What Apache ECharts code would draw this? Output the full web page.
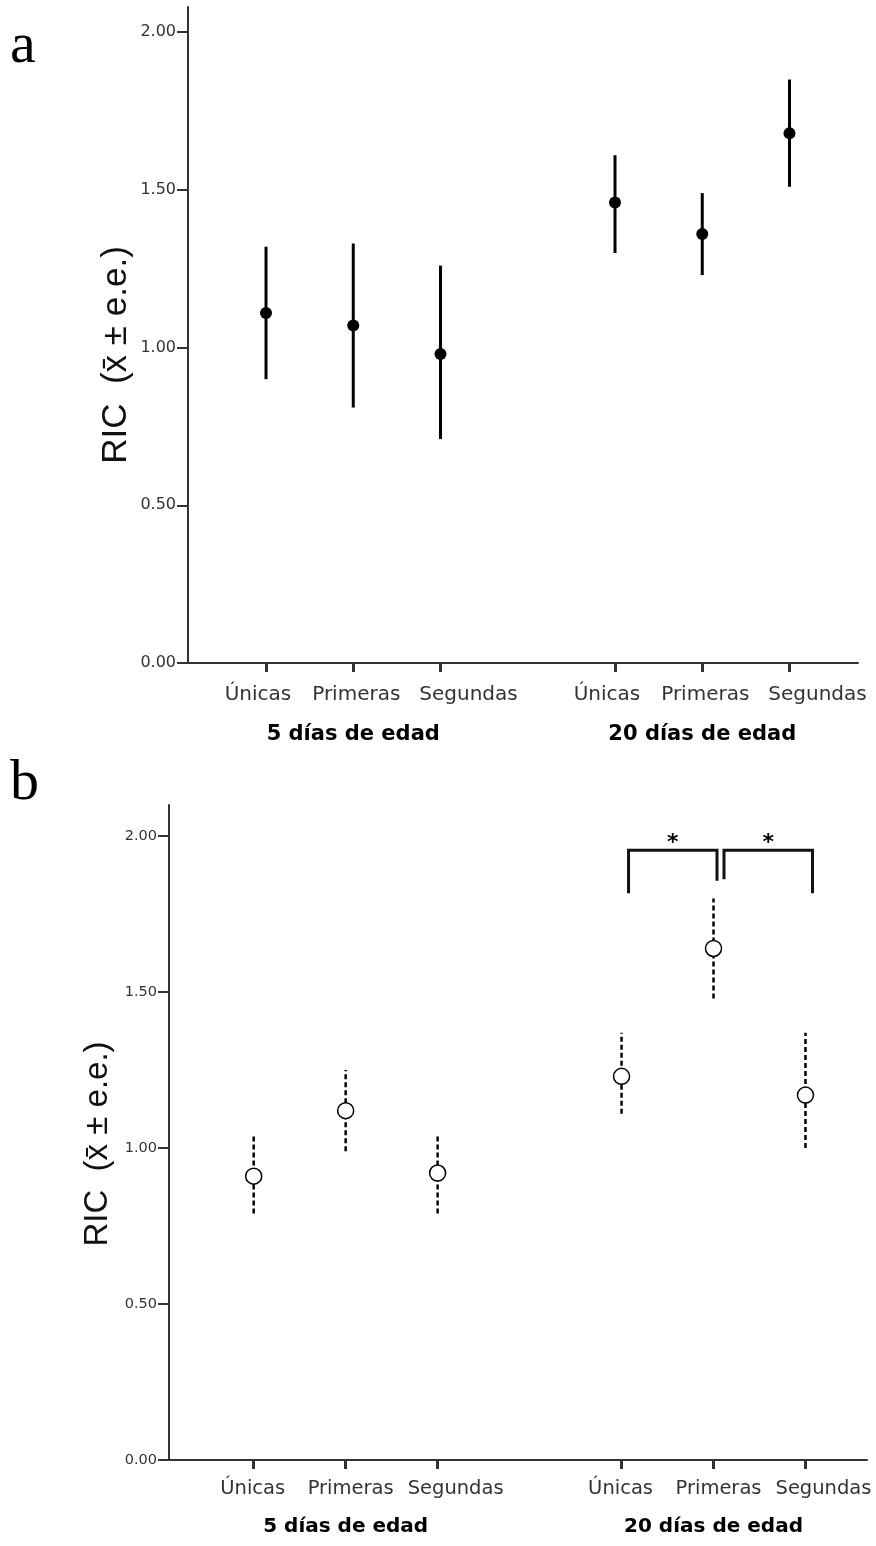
<!DOCTYPE html>
<html>
<head>
<meta charset="utf-8">
<script src="https://cdn.jsdelivr.net/npm/echarts@6/dist/echarts.min.js"></script>
<style>
html, body { margin: 0; padding: 0; background: #fff; }
#chart { width: 876px; height: 1546px; }
</style>
</head>
<body>
<div id="chart"></div>
<script>
const categories = ['Únicas', 'Primeras', 'Segundas']
const ageGroups = ['5 días de edad', '20 días de edad']
const yTicks = [0, 0.5, 1, 1.5, 2]

// panel a: mean, mean - e.e., mean + e.e.
const meanA = [1.11, 1.07, 0.98, 1.46, 1.36, 1.68]
const lowA = [0.90, 0.81, 0.71, 1.30, 1.23, 1.51]
const highA = [1.32, 1.33, 1.26, 1.61, 1.49, 1.85]

// panel b
const meanB = [0.91, 1.12, 0.92, 1.23, 1.64, 1.17]
const lowB = [0.79, 0.99, 0.79, 1.11, 1.48, 1.00]
const highB = [1.04, 1.25, 1.04, 1.37, 1.80, 1.37]

// significance brackets (panel b): pair of items, top, left leg end, right leg end
const bracketPairs = [[3, 4], [4, 5]]
const bracketTop = [1.955, 1.955]
const bracketLegs = [[1.817, 1.857], [1.862, 1.817]]
const bracketMarks = ['*', '*']

// one empty slot between the two age groups
const slot = i => Math.floor(i / 3) * 4 + (i % 3)
const slots = meanA.map((v, i) => slot(i))
const groupSlots = [1, 5]
const richKeys = ['u', 'p', 's']

const chart = echarts.init(document.getElementById('chart'))

// SPSS spreads the labels a bit; pad = [left shift, right shift] per category
function catAxis(gridIndex, min, max, size, margin, pad) {
  const text = { fontFamily: 'DejaVu Sans', fontSize: size, color: '#333' }
  const rich = {}
  richKeys.forEach((k, j) => {
    const d = pad[j]
    rich[k] = Object.assign({}, text, { padding: d < 0 ? [0, -2 * d, 0, 0] : [0, 0, 0, 2 * d] })
  })
  return {
    type: 'value', gridIndex, min, max, position: 'bottom',
    splitLine: { show: false },
    axisLine: { show: true, onZero: false, lineStyle: { color: '#333', width: 2 } },
    axisTick: { show: true, customValues: slots, length: 9, lineStyle: { color: '#333', width: 3 } },
    axisLabel: Object.assign({
      customValues: slots, margin, rich,
      formatter: v => {
        const c = Math.round(v) % 4
        return '{' + richKeys[c] + '|' + categories[c] + '}'
      }
    }, text)
  }
}

function groupAxis(gridIndex, min, max, size, margin) {
  return {
    type: 'value', gridIndex, min, max, position: 'bottom', offset: 0,
    splitLine: { show: false },
    axisLine: { show: false, onZero: false },
    axisTick: { show: false },
    axisLabel: {
      customValues: groupSlots, margin,
      formatter: v => ageGroups[v > 3 ? 1 : 0],
      fontFamily: 'DejaVu Sans', fontWeight: 'bold', fontSize: size, color: '#000'
    }
  }
}

function valAxis(gridIndex, max, size) {
  return {
    type: 'value', gridIndex, min: 0, max,
    splitLine: { show: false },
    axisLine: { show: true, onZero: false, lineStyle: { color: '#333', width: 2 } },
    axisTick: { show: true, customValues: yTicks, length: 11, lineStyle: { color: '#333', width: 2 } },
    axisLabel: {
      customValues: yTicks, margin: 12,
      formatter: v => v.toFixed(2),
      fontFamily: 'DejaVu Sans', fontSize: size, color: '#333'
    }
  }
}

function errorBars(idx, lows, highs, dashed) {
  return {
    type: 'custom', xAxisIndex: idx, yAxisIndex: idx, z: 2,
    data: slots.map((s, i) => [s, lows[i], highs[i]]),
    renderItem(params, api) {
      const lo = api.coord([api.value(0), api.value(1)])
      const hi = api.coord([api.value(0), api.value(2)])
      return {
        type: 'line',
        shape: { x1: lo[0], y1: lo[1], x2: hi[0], y2: hi[1] },
        style: { stroke: '#000', lineWidth: dashed ? 2.5 : 3, lineDash: dashed ? [5, 3] : null }
      }
    }
  }
}

chart.setOption({
  animation: false,
  grid: [
    { left: 188, right: 18, top: 7, bottom: 883 },
    { left: 169, right: 9, top: 805, bottom: 86 }
  ],
  xAxis: [
    catAxis(0, -0.894, 6.785, 20, 22, [-8, 3, 28]),
    catAxis(1, -0.921, 6.669, 19.5, 19, [-1, 5, 18]),
    groupAxis(0, -0.894, 6.785, 21, 61),
    groupAxis(1, -0.921, 6.669, 20, 57)
  ],
  yAxis: [valAxis(0, 2.08, 16), valAxis(1, 2.1, 14.5)],
  graphic: [
    { type: 'text', x: 10, y: 47, style: { text: 'a', fontFamily: 'Liberation Serif', fontSize: 58, fill: '#000', verticalAlign: 'middle' } },
    { type: 'text', x: 10, y: 784, style: { text: 'b', fontFamily: 'Liberation Serif', fontSize: 58, fill: '#000', verticalAlign: 'middle' } },
    { type: 'text', x: 116, y: 355, rotation: Math.PI / 2, style: { text: 'RIC  (x̄ ± e.e.)', fontFamily: 'Liberation Sans', fontSize: 35, fill: '#111', align: 'center', verticalAlign: 'middle' } },
    { type: 'text', x: 98, y: 1144, rotation: Math.PI / 2, style: { text: 'RIC  (x̄ ± e.e.)', fontFamily: 'Liberation Sans', fontSize: 33, fill: '#111', align: 'center', verticalAlign: 'middle' } }
  ],
  series: [
    errorBars(0, lowA, highA, false),
    {
      type: 'scatter', xAxisIndex: 0, yAxisIndex: 0, z: 3,
      symbol: 'circle', symbolSize: 12,
      itemStyle: { color: '#000', opacity: 1 },
      data: slots.map((s, i) => [s, meanA[i]])
    },
    errorBars(1, lowB, highB, true),
    {
      type: 'scatter', xAxisIndex: 1, yAxisIndex: 1, z: 3,
      symbol: 'circle', symbolSize: 16,
      itemStyle: { color: '#fff', borderColor: '#000', borderWidth: 1.5, opacity: 1 },
      data: slots.map((s, i) => [s, meanB[i]])
    },
    {
      type: 'custom', xAxisIndex: 1, yAxisIndex: 1, z: 4,
      data: bracketPairs.map((p, k) => [slots[p[0]], slots[p[1]], bracketTop[k], bracketLegs[k][0], bracketLegs[k][1]]),
      renderItem(params, api) {
        const k = params.dataIndex
        const gap = 3.5
        const top = api.coord([api.value(0), api.value(2)])[1]
        let x0 = api.coord([api.value(0), 0])[0] + 7
        let x1 = api.coord([api.value(1), 0])[0] + 7
        if (k > 0 && bracketPairs[k - 1][1] === bracketPairs[k][0]) x0 += gap
        if (k < bracketPairs.length - 1 && bracketPairs[k + 1][0] === bracketPairs[k][1]) x1 -= gap
        const y0 = api.coord([api.value(0), api.value(3)])[1]
        const y1 = api.coord([api.value(1), api.value(4)])[1]
        return {
          type: 'group',
          children: [
            {
              type: 'polyline',
              shape: { points: [[x0, y0], [x0, top], [x1, top], [x1, y1]] },
              style: { stroke: '#111', lineWidth: 3, fill: null }
            },
            {
              type: 'text',
              x: (x0 + x1) / 2, y: top + 4,
              style: { text: bracketMarks[k], fontFamily: 'DejaVu Sans', fontWeight: 'bold', fontSize: 22, fill: '#000', align: 'center', verticalAlign: 'bottom' }
            }
          ]
        }
      }
    }
  ]
})
</script>
</body>
</html>
